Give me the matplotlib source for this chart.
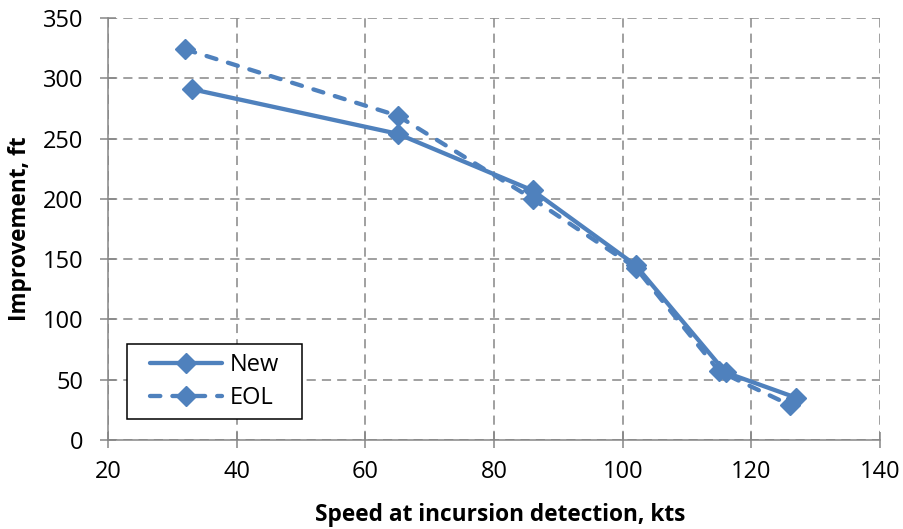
import matplotlib
matplotlib.use("Agg")
import matplotlib.pyplot as plt
from matplotlib.patches import Rectangle

new_x = [33, 65, 86, 102, 116, 127]
new_y = [291, 254, 207, 145, 56, 35]
eol_x = [32, 65, 86, 102, 115, 126]
eol_y = [324, 269, 200, 143, 57, 29]

xticks = [20, 40, 60, 80, 100, 120, 140]
yticks = [0, 50, 100, 150, 200, 250, 300, 350]

plt.rcParams['font.family'] = ['Open Sans', 'DejaVu Sans']
color = '#4F81BD'
gray = '#868686'

W, H = 904, 529
L, R, T, B = 108, 880, 18, 440
fig = plt.figure(figsize=(W / 100, H / 100), dpi=100)
ax = fig.add_axes([L / W, 1 - B / H, (R - L) / W, (B - T) / H])

def axfrac(px, py):
    return (px - L) / (R - L), (B - py) / (B - T)

ax.plot(new_x, new_y, color=color, lw=3.1, marker='D', markersize=10,
        solid_capstyle='round', label='New')
ax.plot(eol_x, eol_y, color=color, lw=3.1, ls=(0, (2.4, 2.8)), dash_capstyle='round',
        marker='D', markersize=10, label='EOL')

ax.set_xlim(20, 140)
ax.set_ylim(0, 350)
ax.set_xticks(xticks)
ax.set_yticks(yticks)
ax.grid(True, color=gray, ls=(0, (6, 4)), lw=1.1)
ax.set_axisbelow(True)
for s in ['top', 'right']:
    ax.spines[s].set_visible(False)
for s in ['left', 'bottom']:
    ax.spines[s].set_color(gray)
    ax.spines[s].set_linewidth(1.1)
ax.tick_params(direction='inout', length=11, color=gray, labelsize=17, width=1.1)
ax.tick_params(axis='y', pad=12)
ax.tick_params(axis='x', pad=9)

ax.set_xlabel('Speed at incursion detection, kts', fontsize=16.3, fontweight='bold', va='center')
ax.set_ylabel('Improvement, ft', fontsize=16.3, fontweight='bold', va='center')
ax.xaxis.set_label_coords(*axfrac(500, 515))
ax.yaxis.set_label_coords(*axfrac(20, 229))

# legend box
x0, y0 = axfrac(127, 419)
x1, y1 = axfrac(302, 344)
ax.add_patch(Rectangle((x0, y0), x1 - x0, y1 - y0, transform=ax.transAxes,
                       facecolor='white', edgecolor='black', lw=1.1, zorder=5))
cx, cy = axfrac(214.5, 381.5)
leg = ax.legend(loc='center', bbox_to_anchor=(cx, cy), frameon=False, fontsize=17,
                handlelength=3.05, handletextpad=0.3, borderpad=0, labelspacing=0.4)
leg.set_zorder(6)

fig.savefig('out.png', dpi=100)
